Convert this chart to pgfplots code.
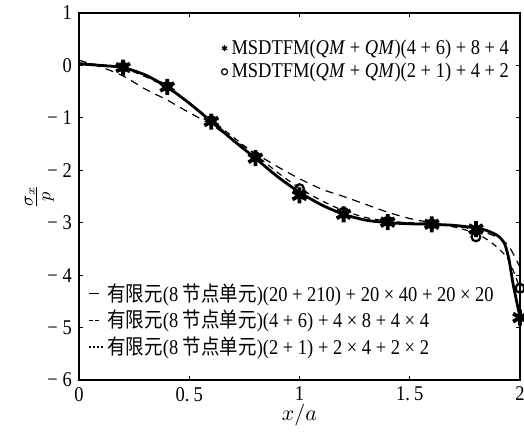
\documentclass[border=0pt]{standalone}
\usepackage{pgfplots}
\pgfplotsset{compat=1.18}
\usepackage{fontspec}
\setmainfont{Liberation Serif}[FakeStretch=0.88]
\newfontfamily\cjk{Noto Sans CJK SC}[FakeStretch=0.88]

% reference FEM solution (20+210)
\pgfplotstableread{
x y
0 0.03
0.1 0.0
0.2 -0.04
0.3 -0.18
0.4 -0.41
0.5 -0.72
0.6 -1.07
0.7 -1.43
0.8 -1.77
0.9 -2.12
1.0 -2.42
1.1 -2.66
1.2 -2.84
1.3 -2.95
1.4 -3.0
1.5 -3.02
1.6 -3.03
1.7 -3.05
1.8 -3.1
1.85 -3.15
1.9 -3.25
1.93 -3.4
1.95 -3.7
1.97 -4.2
2.0 -4.8
}\femfine

% FEM (4+6)
\pgfplotstableread{
x y
0 0.05
0.2 -0.05
0.4 -0.42
0.6 -1.04
0.7 -1.37
0.8 -1.70
0.9 -2.04
1.0 -2.34
1.1 -2.58
1.2 -2.77
1.3 -2.90
1.4 -2.97
1.5 -3.0
1.6 -3.02
1.7 -3.08
1.8 -3.2
1.85 -3.32
1.9 -3.48
1.95 -3.72
2.0 -4.25
}\femmid

% FEM (2+1)
\pgfplotstableread{
x y
0 0.1
0.1 -0.03
0.2 -0.2
0.3 -0.45
0.4 -0.66
0.5 -0.9
0.6 -1.13
0.7 -1.42
0.8 -1.68
0.9 -1.93
1.0 -2.16
1.1 -2.36
1.2 -2.5
1.3 -2.65
1.4 -2.8
1.5 -2.92
1.6 -3.0
1.7 -3.06
1.8 -3.13
1.9 -3.28
1.95 -3.45
2.0 -3.85
}\femcoarse

\begin{document}
\begin{tikzpicture}
% page = reference frame (axis box 220.5pt x 183.5pt)
\useasboundingbox (-39.5pt,-27pt) rectangle (222.5pt,190pt);
\begin{axis}[
  scale only axis,
  width=220.5pt, height=183.5pt,
  xmin=0, xmax=2, ymin=-6, ymax=1,
  xtick={0,0.5,1,1.5,2},
  xticklabels={0,{0.\hspace{2pt}5},1,{1.\hspace{2pt}5},2},
  ytick={-6,-5,-4,-3,-2,-1,0,1},
  yticklabels={−\hspace{2.5pt}6,−\hspace{2.5pt}5,−\hspace{2.5pt}4,−\hspace{2.5pt}3,−\hspace{2.5pt}2,−\hspace{2.5pt}1,0,1},
  tick align=inside,
  major tick length=2pt,
  axis line style={line width=1pt},
  tick style={line width=0.6pt, black},
  tick label style={font=\fontsize{10.5}{12}\selectfont},
  xlabel={$x/a$},
  ylabel={$\frac{\sigma_x}{p}$},
  xlabel style={font=\fontsize{11}{13}\selectfont, at={(axis description cs:0.5,0)}, anchor=center, yshift=-17.5pt},
  ylabel style={font=\fontsize{13}{15}\selectfont, at={(axis description cs:-0.09,0.5)}, anchor=center},
  clip=false,
  legend style={draw=none, fill=none, at={(0.02,0.275)}, anchor=north west,
    font=\fontsize{10.5}{12}\selectfont, row sep=-1pt,
    inner sep=0pt, cells={anchor=west}},
]
\addplot[black, line width=1.4pt, smooth, tension=0.4,
  legend image code/.code={\draw[line width=0.5pt] (0pt,0pt) -- (5pt,0pt);}] table {\femfine};
\addlegendentry{{\cjk 有限元}(8 {\cjk 节点单元})(20 + 210) + 20 × 40 + 20 × 20}
\addplot[black, line width=0.6pt, dash pattern=on 3pt off 2.5pt, smooth, tension=0.4,
  legend image code/.code={\draw[line width=0.5pt, dash pattern=on 2pt off 1pt] (0pt,0pt) -- (5pt,0pt);}] table {\femmid};
\addlegendentry{{\cjk 有限元}(8 {\cjk 节点单元})(4 + 6) + 4 × 8 + 4 × 4}
\addplot[black, line width=0.6pt, dash pattern=on 4pt off 3pt, smooth, tension=0.4,
  legend image code/.code={\draw[line width=0.6pt, dash pattern=on 1pt off 1pt] (0pt,0pt) -- (7pt,0pt);}] table {\femcoarse};
\addlegendentry{{\cjk 有限元}(8 {\cjk 节点单元})(2 + 1) + 2 × 4 + 2 × 2}
\end{axis}

\begin{axis}[
  scale only axis,
  width=220.5pt, height=183.5pt,
  xmin=0, xmax=2, ymin=-6, ymax=1,
  hide axis,
  clip=false,
  legend style={draw=none, fill=none, at={(0.985,0.94)}, anchor=north east,
    font=\fontsize{10.5}{12}\selectfont, row sep=-1pt,
    inner sep=0pt, cells={anchor=west}},
  legend image code/.code={\draw[#1, mark size=1.5pt, line width=0.6pt] plot coordinates {(4pt,0pt)};},
]
\addplot[only marks, mark=asterisk, mark size=4pt, line width=1.9pt, black] coordinates {
  (0.2,-0.04) (0.4,-0.41) (0.6,-1.07) (0.8,-1.77) (1.0,-2.48)
  (1.2,-2.84) (1.4,-2.99) (1.6,-3.03) (1.8,-3.12) (2.0,-4.81)
};
\addlegendentry{MSDTFM(\textit{QM} + \textit{QM})(4 + 6) + 8 + 4}
\addplot[only marks, mark=o, mark size=2.2pt, line width=1.1pt, black] coordinates {
  (0.2,-0.03) (0.4,-0.40) (0.6,-1.05) (0.8,-1.74) (1.0,-2.35)
  (1.2,-2.80) (1.4,-2.97) (1.6,-3.02) (1.8,-3.27) (2.0,-4.25)
};
\addlegendentry{MSDTFM(\textit{QM} + \textit{QM})(2 + 1) + 4 + 2}
\end{axis}
\end{tikzpicture}
\end{document}
